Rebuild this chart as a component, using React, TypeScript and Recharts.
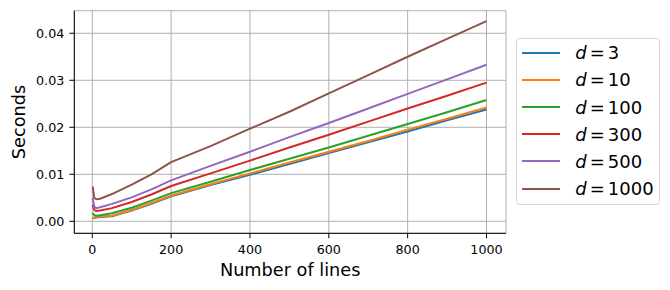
import { LineChart, Line, XAxis, YAxis, CartesianGrid, Label } from 'recharts'

const lines = [1, 5, 10, 20, 50, 100, 150, 200, 300, 400, 500, 600, 700, 800, 900, 1000]

const d3 = [0.0006, 0.0007, 0.0008, 0.0009, 0.0011, 0.0023, 0.0037, 0.0053, 0.0077, 0.0099, 0.0122, 0.0145, 0.0168, 0.0191, 0.0215, 0.0238]
const d10 = [0.0007, 0.0008, 0.0009, 0.001, 0.0012, 0.0024, 0.0039, 0.0055, 0.0079, 0.0102, 0.0125, 0.0148, 0.0171, 0.0195, 0.0218, 0.0242]
const d100 = [0.0018, 0.0013, 0.0012, 0.0013, 0.0017, 0.0029, 0.0044, 0.006, 0.0084, 0.0109, 0.0133, 0.0157, 0.0182, 0.0207, 0.0232, 0.0258]
const d300 = [0.0035, 0.0024, 0.0022, 0.0023, 0.0028, 0.0041, 0.0057, 0.0075, 0.0102, 0.0129, 0.0157, 0.0184, 0.0212, 0.024, 0.0267, 0.0295]
const d500 = [0.005, 0.0031, 0.0028, 0.003, 0.0037, 0.0051, 0.0068, 0.0087, 0.0118, 0.0148, 0.0179, 0.0209, 0.024, 0.0271, 0.0302, 0.0333]
const d1000 = [0.0074, 0.005, 0.0047, 0.0048, 0.0058, 0.0078, 0.01, 0.0126, 0.016, 0.0197, 0.0233, 0.0272, 0.0311, 0.035, 0.0388, 0.0426]

const series = [
  { key: 'd3', label: '3', values: d3, color: '#1f77b4' },
  { key: 'd10', label: '10', values: d10, color: '#ff7f0e' },
  { key: 'd100', label: '100', values: d100, color: '#2ca02c' },
  { key: 'd300', label: '300', values: d300, color: '#d62728' },
  { key: 'd500', label: '500', values: d500, color: '#9467bd' },
  { key: 'd1000', label: '1000', values: d1000, color: '#8c564b' },
]

const xTicks = [0, 200, 400, 600, 800, 1000]
const yTicks = [0, 0.01, 0.02, 0.03, 0.04]

const data = lines.map((n, i) => {
  const row: Record<string, number> = { n }
  series.forEach((s) => {
    row[s.key] = s.values[i]
  })
  return row
})

const font = 'DejaVu Sans, sans-serif'
const tickStyle = { fontSize: 12.7, fill: '#000', fontFamily: font }

export default function App() {
  return (
    <div style={{ position: 'absolute', left: 0, top: 0, width: 670, height: 290, background: '#fff' }}>
      <LineChart
        width={670}
        height={290}
        data={data}
        margin={{ top: 10.7, right: 164, bottom: 0, left: 0 }}
      >
        <CartesianGrid stroke="#b0b0b0" strokeWidth={1} />
        <XAxis
          dataKey="n"
          type="number"
          domain={[-45.6, 1049.5]}
          ticks={xTicks}
          height={56.7}
          tick={tickStyle}
          tickSize={5}
          tickMargin={6.7}
          axisLine={{ stroke: '#000' }}
          tickLine={{ stroke: '#000' }}
          allowDataOverflow
        >
          <Label
            value="Number of lines"
            position="insideBottom"
            offset={14.3}
            style={{ fontSize: 17.7, fill: '#000', fontFamily: font }}
          />
        </XAxis>
        <XAxis
          xAxisId="top"
          orientation="top"
          type="number"
          domain={[-45.6, 1049.5]}
          height={0}
          tick={false}
          tickLine={false}
          axisLine={{ stroke: '#000' }}
        />
        <YAxis
          type="number"
          domain={[-0.00255, 0.0448]}
          ticks={yTicks}
          width={74.3}
          tick={tickStyle}
          tickSize={5}
          tickMargin={5}
          tickFormatter={(v: number) => v.toFixed(2)}
          axisLine={{ stroke: '#000' }}
          tickLine={{ stroke: '#000' }}
          allowDataOverflow
        >
          <Label
            value="Seconds"
            angle={-90}
            position="insideLeft"
            offset={18.7}
            style={{ fontSize: 17.7, fill: '#000', fontFamily: font, textAnchor: 'middle' }}
          />
        </YAxis>
        <YAxis
          yAxisId="right"
          orientation="right"
          type="number"
          domain={[-0.00255, 0.0448]}
          width={0}
          tick={false}
          tickLine={false}
          axisLine={{ stroke: '#000' }}
        />
        {series.map((s) => (
          <Line
            key={s.key}
            dataKey={s.key}
            stroke={s.color}
            strokeWidth={2}
            dot={false}
            isAnimationActive={false}
          />
        ))}
      </LineChart>
      <div
        style={{
          position: 'absolute',
          left: 515.7,
          top: 38.3,
          width: 144.3,
          height: 166.7,
          boxSizing: 'border-box',
          border: '1px solid #d6d6d6',
          borderRadius: 4,
          background: 'rgba(255,255,255,0.8)',
          fontFamily: font,
          fontSize: 18,
          color: '#000',
        }}
      >
        {series.map((s, i) => (
          <div
            key={s.key}
            style={{ position: 'absolute', left: 0, top: 13.4 + i * 27.2 - 13, height: 26, display: 'flex', alignItems: 'center' }}
          >
            <span style={{ display: 'inline-block', marginLeft: 5.3, width: 38, height: 2, background: s.color }} />
            <span style={{ marginLeft: 15.3, whiteSpace: 'nowrap' }}>
              <i>d</i>
              <span style={{ margin: '0 3px' }}>=</span>
              {s.label}
            </span>
          </div>
        ))}
      </div>
    </div>
  )
}
